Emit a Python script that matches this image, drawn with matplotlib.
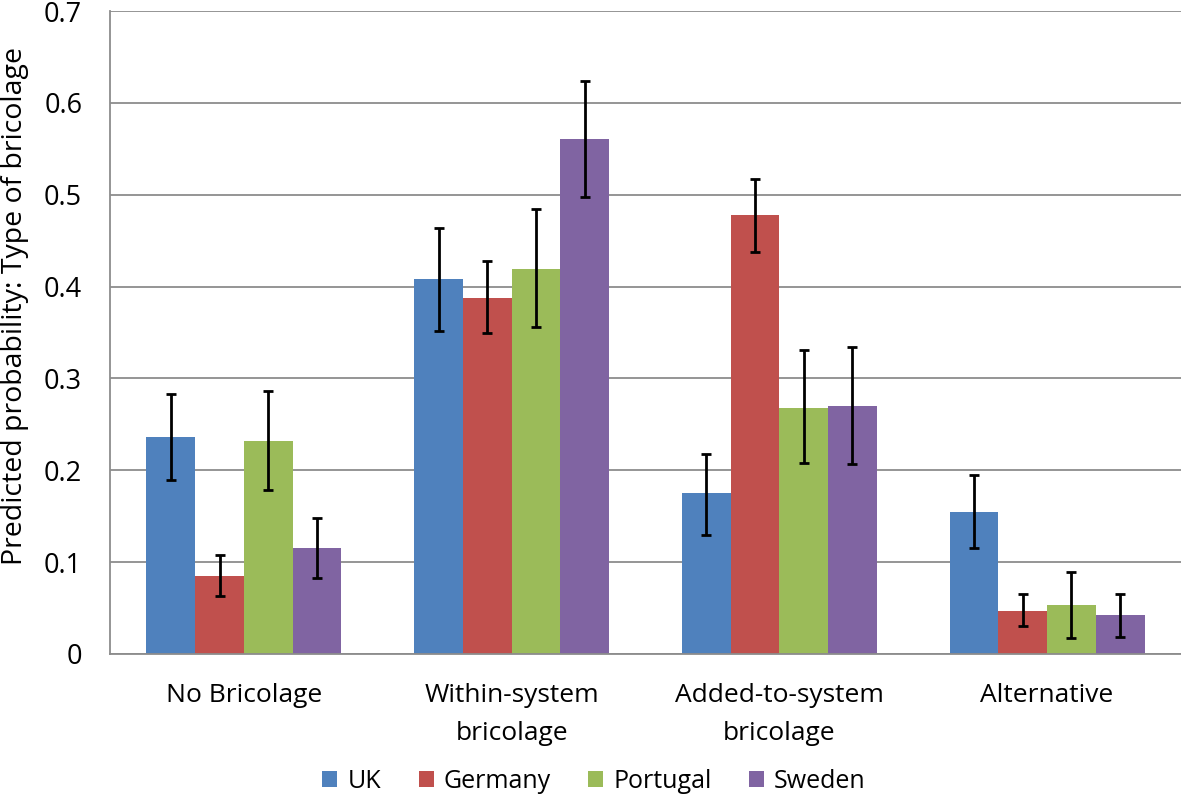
import numpy as np
import matplotlib
matplotlib.use('Agg')
import matplotlib.pyplot as plt

categories = ['No Bricolage', 'Within-system\nbricolage', 'Added-to-system\nbricolage', 'Alternative']
countries = ['UK', 'Germany', 'Portugal', 'Sweden']
colors = ['#4F81BD', '#C0504D', '#9BBB59', '#8064A2']

# predicted probabilities per country, ordered by category
uk       = [0.236, 0.408, 0.175, 0.155]
germany  = [0.085, 0.388, 0.478, 0.047]
portugal = [0.232, 0.419, 0.268, 0.053]
sweden   = [0.115, 0.561, 0.270, 0.042]

# confidence interval bounds (low, high)
uk_lo       = [0.189, 0.352, 0.130, 0.115]
uk_hi       = [0.283, 0.464, 0.218, 0.195]
germany_lo  = [0.063, 0.349, 0.438, 0.030]
germany_hi  = [0.108, 0.428, 0.517, 0.065]
portugal_lo = [0.179, 0.356, 0.208, 0.017]
portugal_hi = [0.286, 0.484, 0.331, 0.089]
sweden_lo   = [0.083, 0.497, 0.207, 0.019]
sweden_hi   = [0.148, 0.624, 0.334, 0.065]

series = [(uk, uk_lo, uk_hi), (germany, germany_lo, germany_hi),
          (portugal, portugal_lo, portugal_hi), (sweden, sweden_lo, sweden_hi)]

plt.rcParams['font.family'] = ['Open Sans', 'DejaVu Sans']

fig = plt.figure(figsize=(11.81, 7.98), dpi=100)
ax = fig.add_axes([110 / 1181, 1 - 654 / 798, 1 - 110 / 1181, (654 - 11) / 798])

x = np.arange(len(categories))
bw = 0.182
for i, (vals, lo, hi) in enumerate(series):
    vals = np.array(vals)
    err = [vals - np.array(lo), np.array(hi) - vals]
    pos = x + (i - 1.5) * bw
    ax.bar(pos, vals, width=bw, color=colors[i], label=countries[i], zorder=2)
    ax.errorbar(pos, vals, yerr=err, fmt='none', ecolor='black', elinewidth=2,
                capsize=3.5, capthick=2, zorder=3)

ax.set_xlim(-0.5, 3.5)
ax.set_ylim(0, 0.7)
ax.set_yticks(np.arange(0, 0.71, 0.1))
ax.set_yticklabels(['0'] + [f'{v:.1f}' for v in np.arange(0.1, 0.71, 0.1)])
ax.yaxis.grid(True, color='#8C8C8C', linewidth=1.3, zorder=0)
ax.set_axisbelow(True)
ax.set_xticks(x)
ax.set_xticklabels(categories, fontsize=19, linespacing=1.65)
ax.tick_params(axis='x', length=0, pad=21)
ax.tick_params(axis='y', length=0, pad=20, labelsize=19.5)
for s in ['top', 'right']:
    ax.spines[s].set_visible(False)
for s in ['left', 'bottom']:
    ax.spines[s].set_color('#8C8C8C')
    ax.spines[s].set_linewidth(1.3)

fig.text(15 / 1181, 1 - 306 / 798, 'Predicted probability: Type of bricolage',
         rotation=90, ha='center', va='center', fontsize=20.5)

fig.legend(loc='center', bbox_to_anchor=(594 / 1181, 1 - 781 / 798), ncol=4,
           frameon=False, fontsize=18, handlelength=0.6, handleheight=0.6,
           handletextpad=0.4, columnspacing=1.5)

fig.savefig('out.png', dpi=100, facecolor='white')
